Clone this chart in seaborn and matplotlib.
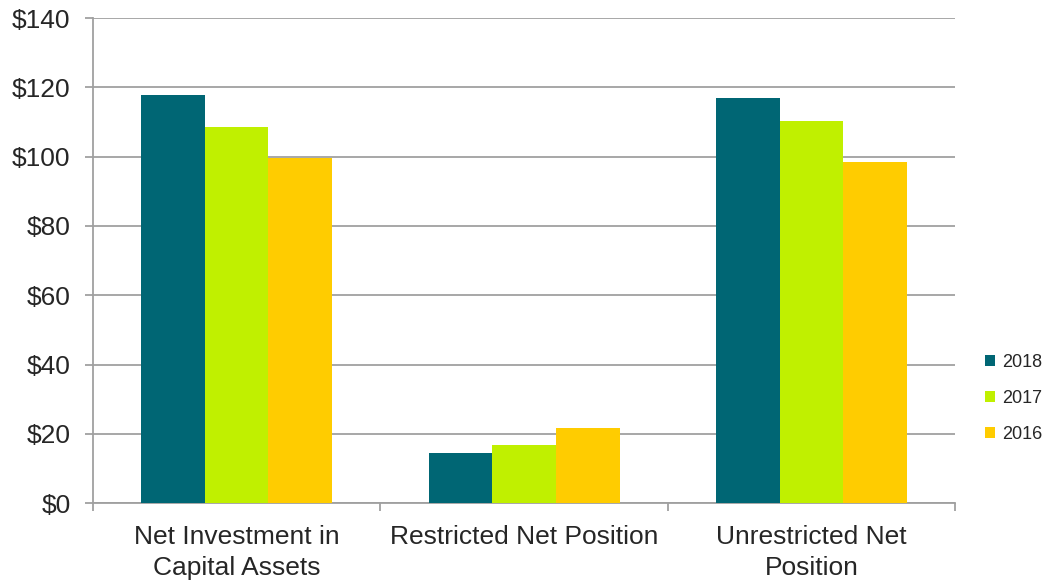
import matplotlib.pyplot as plt
import numpy as np
import seaborn as sns
import pandas as pd

# datos (millones de $)
categorias = ['Net Investment in\nCapital Assets', 'Restricted Net Position', 'Unrestricted Net\nPosition']
anios = ['2018', '2017', '2016']
v2018 = [117.9, 14.6, 117.0]
v2017 = [108.7, 16.7, 110.4]
v2016 = [99.7, 21.8, 98.4]
colores = ['#006674', '#C0F000', '#FFCC00']
yticks = [0, 20, 40, 60, 80, 100, 120, 140]

filas = []
for anio, vals in zip(anios, [v2018, v2017, v2016]):
    for cat, v in zip(categorias, vals):
        filas.append({'Categoria': cat, 'Anio': anio, 'Valor': v})
df = pd.DataFrame(filas)

sns.set_style('white')
plt.rcParams['font.family'] = ['Liberation Sans', 'DejaVu Sans']

fig = plt.figure(figsize=(10.43, 5.83), dpi=100)
ax = fig.add_axes([0.089, 0.137, 0.827, 0.832])
sns.barplot(data=df, x='Categoria', y='Valor', hue='Anio', hue_order=anios,
            palette=colores, width=0.665, gap=0, linewidth=0, saturation=1,
            errorbar=None, ax=ax, zorder=3)

ax.set_ylim(0, 140)
ax.set_xlim(-0.5, 2.5)
ax.set_yticks(yticks)
ax.set_yticklabels(['$%d' % t for t in yticks], fontsize=19)
ax.yaxis.grid(True, color='#A0A0A0', linewidth=1.3, zorder=0)
ax.set_axisbelow(True)
ax.set_xlabel('')
ax.set_ylabel('')

ax.set_xticks(range(len(categorias)))
ax.set_xticklabels(categorias, fontsize=19, linespacing=1.33)
ax.set_xticks([-0.5, 0.5, 1.5, 2.5], minor=True)
ax.tick_params(axis='x', which='major', bottom=False, length=0, pad=16)
ax.tick_params(axis='x', which='minor', bottom=True, length=6, color='#A0A0A0',
               width=1.3, direction='out')
ax.tick_params(axis='y', left=True, length=6, color='#A0A0A0', width=1.3,
               direction='out', pad=10)

for lado in ['top', 'right']:
    ax.spines[lado].set_visible(False)
for lado in ['left', 'bottom']:
    ax.spines[lado].set_color('#A0A0A0')
    ax.spines[lado].set_linewidth(1.3)

ax.legend_.remove()
handles, labels = ax.get_legend_handles_labels()
fig.legend(handles, labels, loc='center left', bbox_to_anchor=(0.944, 0.317),
           frameon=False, fontsize=13, handlelength=0.6, handleheight=0.6,
           handletextpad=0.35, labelspacing=1.05, borderpad=0, borderaxespad=0)

plt.savefig('out.png', dpi=100)
